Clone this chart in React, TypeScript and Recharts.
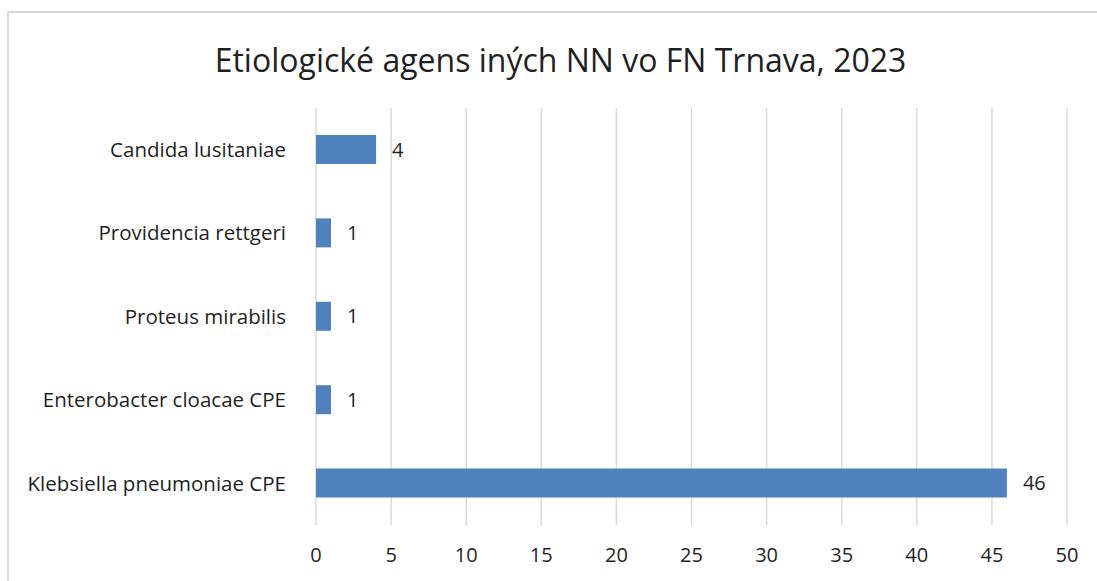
import { BarChart, Bar, XAxis, YAxis, CartesianGrid, LabelList } from "recharts";

// Top-to-bottom order as drawn
const categories = [
  "Candida lusitaniae",
  "Providencia rettgeri",
  "Proteus mirabilis",
  "Enterobacter cloacae CPE",
  "Klebsiella pneumoniae CPE",
];
const counts = [4, 1, 1, 1, 46];
const xTicks = [0, 5, 10, 15, 20, 25, 30, 35, 40, 45, 50];

const chartData = categories.map((name, i) => ({ name, value: counts[i] }));

const FONT = "'Open Sans', Lato, sans-serif";
const TEXT = "#1f1f1f";

export default function App() {
  return (
    <div
      style={{
        position: "absolute",
        left: 7,
        top: 11,
        width: 1100,
        height: 600,
        borderLeft: "2px solid #d9d9d9",
        borderTop: "2px solid #d9d9d9",
        background: "#fff",
        fontFamily: FONT,
      }}
    >
      <div
        style={{
          position: "absolute",
          left: 0,
          width: 1095,
          top: 26,
          textAlign: "center",
          fontSize: 32,
          color: TEXT,
          lineHeight: "42px",
        }}
      >
        <span style={{ position: "relative", left: 4 }}>
          Etiologické agens iných NN vo FN Trnava, 2023
        </span>
      </div>
      <div style={{ position: "absolute", left: 0, top: 0 }}>
        <BarChart
          width={1100}
          height={570}
          layout="vertical"
          data={chartData}
          margin={{ top: 95, right: 42, bottom: 0, left: 0 }}
          barSize={29}
        >
          <CartesianGrid horizontal={false} stroke="#d9d9d9" strokeWidth={1.5} />
          <XAxis
            type="number"
            domain={[0, 50]}
            ticks={xTicks}
            interval={0}
            axisLine={false}
            tickLine={false}
            tickSize={0}
            tickMargin={23}
            height={58}
            tick={{ fill: TEXT, fontSize: 20, fontFamily: FONT }}
          />
          <YAxis
            type="category"
            dataKey="name"
            width={307}
            axisLine={false}
            tickLine={false}
            tickSize={0}
            tickMargin={30}
            tick={{ fill: TEXT, fontSize: 20.5, fontFamily: FONT }}
          />
          <Bar dataKey="value" fill="#4f81bd" isAnimationActive={false}>
            <LabelList
              dataKey="value"
              position="right"
              offset={16}
              fill={TEXT}
              fontSize={20}
              fontFamily={FONT}
            />
          </Bar>
        </BarChart>
      </div>
    </div>
  );
}
